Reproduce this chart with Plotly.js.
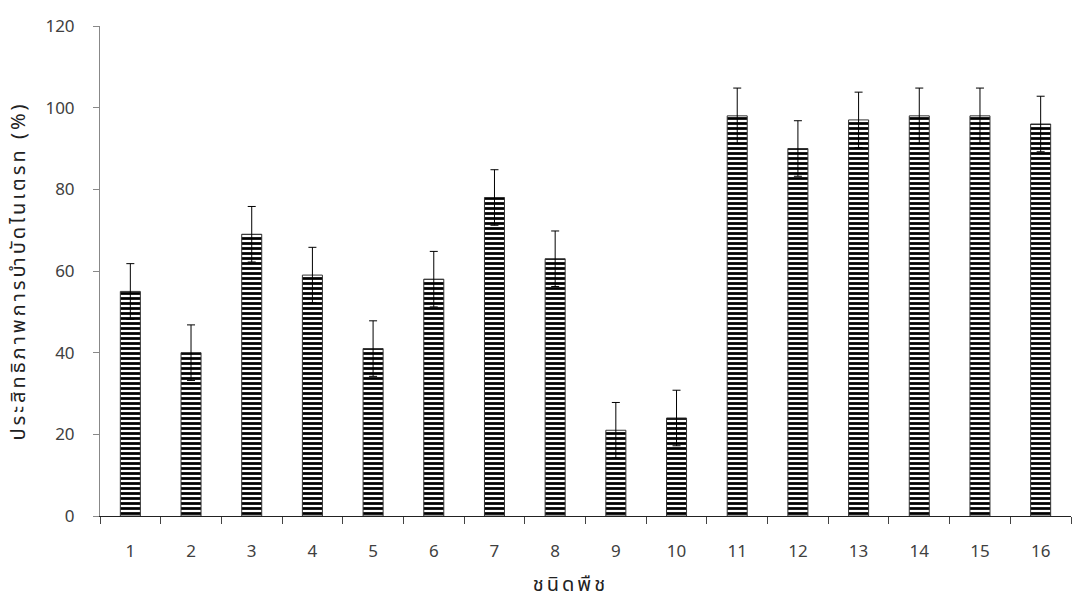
<!DOCTYPE html>
<html>
<head>
<meta charset="utf-8">
<script src="https://cdn.plot.ly/plotly-3.0.1.min.js"></script>
<style>
html,body{margin:0;padding:0;background:#fff;}
#chart{width:1075px;height:603px;}
.g-xtitle text, .g-ytitle text {letter-spacing: 3px;}
.g-xtitle {transform: translateX(-15px);}
</style>
</head>
<body>
<div id="chart"></div>
<script>
const categories = ['1','2','3','4','5','6','7','8','9','10','11','12','13','14','15','16'];
const efficiency = [55, 40, 69, 59, 41, 58, 78, 63, 21, 24, 98, 90, 97, 98, 98, 96];
const errors = [6.8, 6.8, 6.8, 6.8, 6.8, 6.8, 6.8, 6.8, 6.8, 6.8, 6.8, 6.8, 6.8, 6.8, 6.8, 6.8];
const yTickVals = [0, 20, 40, 60, 80, 100, 120];

const fontFam = '"Noto Sans Thai", "Noto Sans", "Liberation Sans", sans-serif';

const trace = {
  type: 'bar',
  x: categories,
  y: efficiency,
  marker: {
    color: 'white',
    line: {color: '#333', width: 1},
    pattern: {shape: '-', fgcolor: 'black', bgcolor: 'white', size: 5, solidity: 0.55}
  },
  error_y: {type: 'data', array: errors, visible: true, color: 'black', thickness: 1, width: 4},
  hoverinfo: 'skip'
};

const layout = {
  width: 1075, height: 603,
  margin: {l: 100, r: 4, t: 26, b: 87},
  paper_bgcolor: 'white', plot_bgcolor: 'white',
  showlegend: false,
  bargap: 0.67,
  font: {family: fontFam, color: '#404040', size: 17},
  xaxis: {
    type: 'category',
    range: [-0.5, 15.5],
    showline: true, linecolor: '#222', linewidth: 1,
    ticks: 'outside', tickson: 'boundaries', ticklen: 7, tickcolor: '#444',
    ticklabelstandoff: 20,
    showgrid: false, zeroline: false,
    tickfont: {size: 17, color: '#404040'},
    title: {text: 'ชนิดพืช', font: {size: 20, color: '#222'}, standoff: 12}
  },
  yaxis: {
    range: [0, 120],
    tickvals: yTickVals,
    showline: true, linecolor: '#888', linewidth: 1,
    ticks: 'outside', ticklen: 6, tickcolor: '#888',
    ticklabelstandoff: 15,
    showgrid: false, zeroline: false,
    tickfont: {size: 17, color: '#404040'},
    title: {text: 'ประสิทธิภาพการบำบัดไนเตรท (%)', font: {size: 20, color: '#222'}, standoff: 14}
  }
};

Plotly.newPlot('chart', [trace], layout, {displayModeBar: false, staticPlot: true});
</script>
</body>
</html>
